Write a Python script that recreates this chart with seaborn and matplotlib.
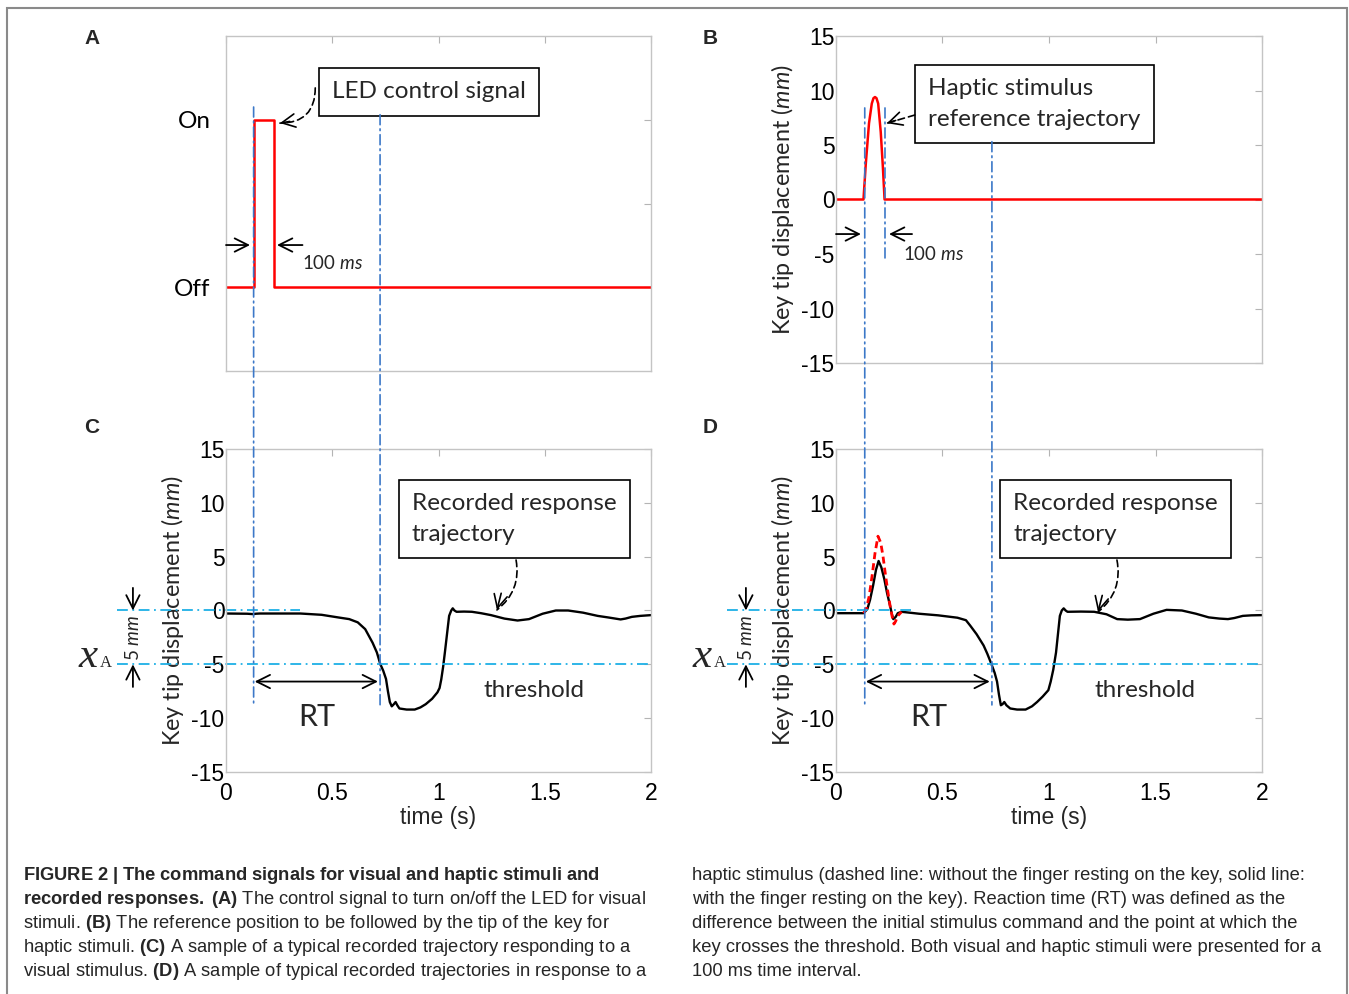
import matplotlib
matplotlib.use("Agg")
import matplotlib.pyplot as plt
from matplotlib import font_manager
from matplotlib.patches import ConnectionPatch, Rectangle
import seaborn as sns
import numpy as np
import pandas as pd

# ---- data ----
# (A) LED control signal, 0 = Off, 1 = On
led_t = [0.0, 0.13, 0.13, 0.226, 0.226, 2.0]
led_state = [0, 0, 1, 1, 0, 0]

# (B) haptic reference trajectory (mm)
hap_t = [0.0, 0.129, 0.14, 0.155, 0.168, 0.176, 0.183, 0.19, 0.198, 0.21, 0.22, 0.228, 2.0]
hap_y = [0.0, 0.0, 3.3, 7.0, 8.8, 9.3, 9.4, 9.3, 8.8, 6.2, 3.0, 0.0, 0.0]

# (C) recorded response to a visual stimulus (mm)
vis_t = [0.0, 0.10, 0.13, 0.14, 0.16, 0.35, 0.45, 0.53, 0.58, 0.62, 0.655, 0.69, 0.71,
         0.726, 0.74, 0.753, 0.762, 0.771, 0.78, 0.79, 0.798, 0.806, 0.816, 0.85, 0.888,
         0.915, 0.94, 0.97, 0.995, 1.005, 1.013, 1.022, 1.03, 1.04, 1.05, 1.06, 1.067,
         1.075, 1.085, 1.12, 1.157, 1.2, 1.247, 1.31, 1.372, 1.426, 1.49, 1.552, 1.61,
         1.68, 1.749, 1.80, 1.857, 1.88, 1.91, 1.95, 2.0]
vis_y = [-0.28, -0.3, -0.34, -0.3, -0.28, -0.28, -0.4, -0.65, -0.8, -1.1, -1.73, -3.0, -3.9,
         -4.97, -5.6, -6.36, -7.5, -8.5, -8.9, -8.7, -8.5, -8.8, -9.1, -9.2, -9.2,
         -9.0, -8.7, -8.2, -7.6, -7.2, -6.4, -5.2, -3.9, -2.2, -0.5, 0.0, 0.2,
         0.0, -0.12, -0.1, -0.12, -0.25, -0.43, -0.75, -0.93, -0.8, -0.3, 0.0, 0.0,
         -0.2, -0.5, -0.65, -0.83, -0.75, -0.59, -0.5, -0.43]

# (D) recorded response to a haptic stimulus, finger resting on the key (mm)
hres_t = [0.0, 0.129, 0.147, 0.16, 0.174, 0.188, 0.2, 0.213, 0.227, 0.24, 0.254, 0.262,
          0.269, 0.28, 0.29, 0.308, 0.39, 0.48, 0.57, 0.61, 0.63, 0.66, 0.693, 0.71,
          0.729, 0.745, 0.756, 0.765, 0.774, 0.782, 0.79, 0.80, 0.818, 0.85, 0.89, 0.92,
          0.944, 0.97, 0.997, 1.008, 1.02, 1.033, 1.042, 1.051, 1.06, 1.069, 1.078, 1.087,
          1.15, 1.212, 1.27, 1.32, 1.37, 1.427, 1.49, 1.552, 1.624, 1.69, 1.75, 1.80,
          1.84, 1.87, 1.91, 1.95, 2.0]
hres_y = [-0.25, -0.25, 0.12, 1.0, 2.3, 3.8, 4.6, 4.0, 2.9, 1.6, 0.43, -0.3,
          -0.8, -0.6, -0.25, -0.12, -0.3, -0.45, -0.67, -0.9, -1.4, -2.2, -3.25, -4.0,
          -4.94, -5.8, -6.6, -7.8, -8.8, -8.7, -8.5, -8.8, -9.1, -9.2, -9.2, -8.9,
          -8.5, -8.0, -7.4, -6.6, -5.5, -3.9, -2.2, -0.5, 0.0, 0.2, 0.0, -0.12,
          -0.1, -0.12, -0.35, -0.8, -0.85, -0.8, -0.3, 0.06, 0.0, -0.3, -0.64, -0.75,
          -0.8, -0.7, -0.5, -0.45, -0.43]

# (D) dashed: without the finger resting on the key (mm)
free_t = [0.129, 0.143, 0.156, 0.17, 0.183, 0.197, 0.21, 0.221, 0.231, 0.243, 0.254,
          0.263, 0.272, 0.28, 0.29, 0.308]
free_y = [-0.25, 0.2, 1.35, 3.3, 5.3, 6.9, 6.3, 5.0, 3.5, 1.8, 0.43, -0.5, -1.26, -1.0,
          -0.5, -0.12]

threshold = -5.0
onset_visual, cross_visual = 0.13, 0.725
onset_haptic, end_haptic, cross_haptic = 0.135, 0.23, 0.732

disp_ticks = [-15, -10, -5, 0, 5, 10, 15]
time_ticks = [0, 0.5, 1, 1.5, 2]

caption_left = [
    [("FIGURE 2 | The command signals for visual and haptic stimuli and", True)],
    [("recorded responses. (A)", True), (" The control signal to turn on/off the LED for visual", False)],
    [("stimuli. ", False), ("(B)", True), (" The reference position to be followed by the tip of the key for", False)],
    [("haptic stimuli. ", False), ("(C)", True), (" A sample of a typical recorded trajectory responding to a", False)],
    [("visual stimulus. ", False), ("(D)", True), (" A sample of typical recorded trajectories in response to a", False)],
]
caption_right = [
    "haptic stimulus (dashed line: without the finger resting on the key, solid line:",
    "with the finger resting on the key). Reaction time (RT) was defined as the",
    "difference between the initial stimulus command and the point at which the",
    "key crosses the threshold. Both visual and haptic stimuli were presented for a",
    "100 ms time interval.",
]

# ---- style ----
sns.set_theme(style="white")
installed = {f.name for f in font_manager.fontManager.ttflist}
cap_font = "Liberation Sans Narrow" if "Liberation Sans Narrow" in installed else "Liberation Sans"
cap_size = 15.5 if cap_font == "Liberation Sans Narrow" else 13.2
plt.rcParams["font.family"] = ["Liberation Sans", "DejaVu Sans"]
plt.rcParams["mathtext.fontset"] = "custom"
plt.rcParams["mathtext.rm"] = "Lato"
plt.rcParams["mathtext.it"] = "Lato:italic"
plt.rcParams["mathtext.bf"] = cap_font + ":bold"

ANN = "Lato"
vline_c = "#3c78c8"
thr_c = "#1eb0e6"
dashdot = (0, (6, 2.5, 1, 2.5))

W, H = 1349, 994
fig = plt.figure(figsize=(W / 100, H / 100), dpi=100)
fig.patch.set_facecolor("white")


def px_axes(l, t, r, b):
    return fig.add_axes([l / W, 1 - b / H, (r - l) / W, (b - t) / H])


axA = px_axes(226, 36, 651, 371)
axB = px_axes(836, 36, 1262, 363)
axC = px_axes(226, 449, 651, 772)
axD = px_axes(836, 449, 1262, 772)

for ax in (axA, axB, axC, axD):
    ax.set_xlim(0, 2)
    ax.set_xticks(time_ticks)
    for s in ax.spines.values():
        s.set_color("#c4c4c4")
        s.set_linewidth(1.0)
    ax.tick_params(direction="in", top=True, right=True, length=5, width=0.8,
                   color="#b4b4b4", labelsize=16.5, labelcolor="black")
    ax.tick_params(axis="x", pad=7)
    ax.tick_params(axis="y", pad=1)
    ax.set_facecolor("white")

# A
sns.lineplot(x=led_t, y=led_state, ax=axA, color="red", lw=1.8, estimator=None, sort=False)
axA.set_ylim(-0.5, 1.5)
axA.set_yticks([0, 0.5, 1])
axA.set_yticklabels(["Off", "", "On"], fontfamily=ANN, fontsize=17.5)
axA.tick_params(axis="y", pad=11)
axA.set_xticklabels([])

# B
sns.lineplot(x=hap_t, y=hap_y, ax=axB, color="red", lw=1.8, estimator=None, sort=False)
axB.set_ylim(-15, 15)
axB.set_yticks(disp_ticks)
axB.set_xticklabels([])

# C, D
sns.lineplot(x=vis_t, y=vis_y, ax=axC, color="black", lw=1.7, estimator=None, sort=False)
sns.lineplot(x=hres_t, y=hres_y, ax=axD, color="black", lw=1.7, estimator=None, sort=False)
sns.lineplot(x=free_t, y=free_y, ax=axD, color="red", lw=2.0, estimator=None, sort=False,
             linestyle=(0, (2.5, 1.5)))
for ax in (axC, axD):
    ax.set_ylim(-15, 15)
    ax.set_yticks(disp_ticks)
    ax.set_xticklabels(["0", "0.5", "1", "1.5", "2"])
    ax.set_xlabel("time (s)", fontsize=16.5, labelpad=1)

for ax in (axB, axC, axD):
    ax.set_ylabel(r"Key tip displacement ($\mathit{mm}$)", fontfamily=ANN, fontsize=16.8, labelpad=4)
    ax.set_yticklabels([str(v) for v in disp_ticks])


# vertical dash-dot markers spanning panels
def vconnect(axT, yT, axBot, yBot, x):
    con = ConnectionPatch(xyA=(x, yT), coordsA="data", axesA=axT,
                          xyB=(x, yBot), coordsB="data", axesB=axBot,
                          color=vline_c, lw=1.2, linestyle=dashdot)
    fig.add_artist(con)


vconnect(axA, 1.076, axC, -8.77, onset_visual)
vconnect(axA, 1.03, axC, -8.77, cross_visual)
vconnect(axB, 8.4, axD, -8.77, onset_haptic)
vconnect(axB, 8.4, axB, -5.4, end_haptic)
vconnect(axB, 5.3, axD, -8.77, cross_haptic)


def dashed_pointer(ax, tail, tip, head_from, rad):
    ax.annotate("", xy=tip, xytext=tail, annotation_clip=False,
                arrowprops=dict(arrowstyle="-", color="black", lw=1.2, linestyle=(0, (4, 2.5)),
                                connectionstyle="arc3,rad=%s" % rad, shrinkA=0, shrinkB=0))
    ax.annotate("", xy=tip, xytext=head_from, annotation_clip=False,
                arrowprops=dict(arrowstyle="->,head_length=0.8,head_width=0.4", color="black",
                                lw=1.2, shrinkA=0, shrinkB=0))


def ruler_arrow(ax, start, end, style="->"):
    ax.annotate("", xy=end, xytext=start, annotation_clip=False,
                arrowprops=dict(arrowstyle=style + ",head_length=0.8,head_width=0.4",
                                color="black", lw=1.3, shrinkA=0, shrinkB=0))


box = dict(boxstyle="square,pad=0.55", fc="white", ec="black", lw=1.2)

# A annotations
axA.text(0.499, 1.166, "LED control signal", fontfamily=ANN, fontsize=17.5, ha="left", va="center", bbox=box)
dashed_pointer(axA, (0.42, 1.19), (0.254, 0.98), (0.30, 0.99), -0.5)
ruler_arrow(axA, (0.0, 0.252), (0.113, 0.252))
ruler_arrow(axA, (0.36, 0.252), (0.24, 0.252))
axA.text(0.358, 0.145, r"100 $\mathit{ms}$", fontfamily=ANN, fontsize=13.5, ha="left", va="center")

# B annotations
axB.text(0.432, 8.76, "Haptic stimulus\nreference trajectory", fontfamily=ANN, fontsize=17.5,
         ha="left", va="center", linespacing=1.55, bbox=box)
dashed_pointer(axB, (0.37, 7.75), (0.239, 7.0), (0.28, 7.25), 0.0)
ruler_arrow(axB, (0.0, -3.17), (0.117, -3.17))
ruler_arrow(axB, (0.357, -3.17), (0.249, -3.17))
axB.text(0.315, -5.0, r"100 $\mathit{ms}$", fontfamily=ANN, fontsize=13.5, ha="left", va="center")

# C / D annotations
for ax, onset, cross, tx, x0, ptr in (
        (axC, onset_visual, cross_visual, 0.875, -0.513, ((1.365, 4.69), (1.275, 0.05), (1.295, 1.6))),
        (axD, onset_haptic, cross_haptic, 0.831, -0.512, ((1.319, 4.69), (1.23, -0.14), (1.25, 1.4)))):
    ax.text(tx, 8.5, "Recorded response\ntrajectory", fontfamily=ANN, fontsize=17.5,
            ha="left", va="center", linespacing=1.55, bbox=box)
    dashed_pointer(ax, ptr[0], ptr[1], ptr[2], -0.3)
    # threshold lines
    ax.plot([x0, 0.35], [0, 0], color=thr_c, lw=1.3, linestyle=dashdot, clip_on=False)
    ax.plot([x0, 2.0], [threshold, threshold], color=thr_c, lw=1.3, linestyle=dashdot, clip_on=False)
    ruler_arrow(ax, (onset + 0.005, -6.6), (cross - 0.01, -6.6), style="<->")
    ax.text((onset + cross) / 2, -9.9, "RT", fontfamily=ANN, fontsize=22, ha="center", va="center")
    ax.text(1.45, -7.45, "threshold", fontfamily=ANN, fontsize=17.5, ha="center", va="center")
    xa = -0.438 if ax is axC else -0.423
    ruler_arrow(ax, (xa, 2.1), (xa, 0.0))
    ruler_arrow(ax, (xa, -7.1), (xa, threshold))
    ax.text(xa, -2.5, r"5 $\mathit{mm}$", fontfamily=ANN, fontsize=13.5, rotation=90,
            ha="center", va="center", clip_on=False)
    xs = -0.648 if ax is axC else -0.627
    ax.text(xs, -4.3, "x", fontfamily="Liberation Serif", fontstyle="italic", fontsize=31,
            ha="center", va="center", clip_on=False)
    ax.text(xs + 0.082, -4.87, "A", fontfamily="Liberation Serif", fontsize=12,
            ha="center", va="center", clip_on=False)

# panel letters
for letter, (px, py) in zip("ABCD", [(92, 38), (710, 38), (92, 428), (710, 428)]):
    fig.text(px / W, 1 - py / H, letter, fontsize=15, fontweight="bold", ha="center", va="center")

# caption
for i, parts in enumerate(caption_left):
    s = ""
    for txt, bold in parts:
        if bold:
            s += r"$\bf{" + txt.replace(" ", r"\ ") + "}$"
        else:
            s += txt
    fig.text(23 / W, 1 - (876 + 24 * i) / H, s, fontfamily=cap_font, fontsize=cap_size,
             color="#262626", ha="left", va="center")
for i, line in enumerate(caption_right):
    fig.text(692 / W, 1 - (876 + 24 * i) / H, line, fontfamily=cap_font, fontsize=cap_size,
             color="#262626", ha="left", va="center")

# outer frame
fig.add_artist(Rectangle((7 / W, -0.05), (1347 - 7) / W, 1.05 - 8 / H, transform=fig.transFigure,
                         fill=False, ec="#8a8a8a", lw=1.5))

fig.savefig("out.png", dpi=100, facecolor="white")
